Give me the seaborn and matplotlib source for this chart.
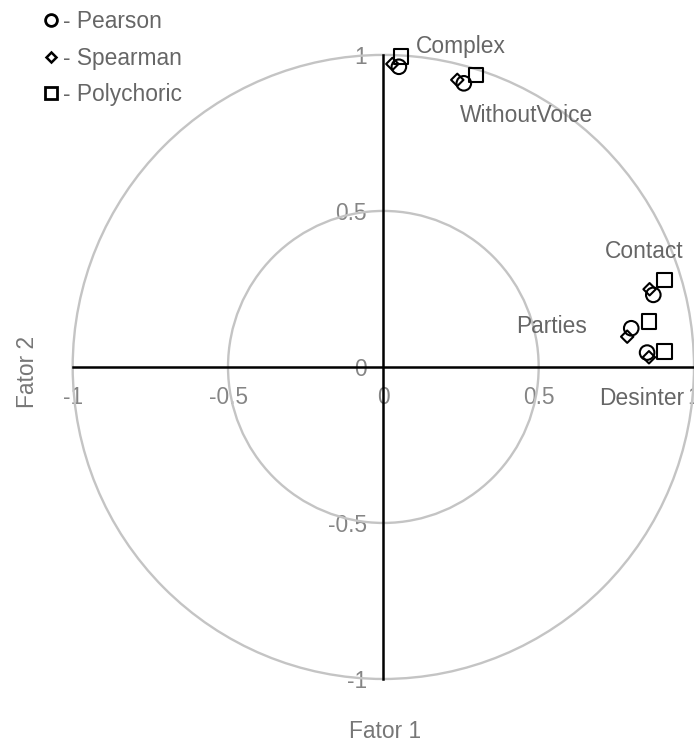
import matplotlib
matplotlib.use("Agg")
import matplotlib.pyplot as plt
from matplotlib.patches import Circle
from matplotlib.lines import Line2D
import seaborn as sns
import pandas as pd

# Factor loadings (Fator 1, Fator 2) for each variable and correlation type
variables = ["Complex", "WithoutVoice", "Contact", "Parties", "Desinter"]
pearson_f1 = [0.050, 0.259, 0.869, 0.798, 0.849]
pearson_f2 = [0.962, 0.909, 0.231, 0.124, 0.046]
spearman_f1 = [0.029, 0.238, 0.857, 0.785, 0.855]
spearman_f2 = [0.971, 0.920, 0.249, 0.097, 0.031]
polychoric_f1 = [0.057, 0.299, 0.905, 0.855, 0.905]
polychoric_f2 = [0.995, 0.936, 0.279, 0.145, 0.049]

methods = ["Pearson", "Spearman", "Polychoric"]
tick_values = [-1, -0.5, 0, 0.5, 1]
tick_labels = ["-1", "-0.5", "0", "0.5", "1"]

# label anchor points (left/baseline) for the variable names
label_pos = {
    "Complex": (0.106, 1.006),
    "WithoutVoice": (0.247, 0.785),
    "Contact": (0.712, 0.349),
    "Parties": (0.426, 0.109),
    "Desinter": (0.696, -0.122),
}

df = pd.concat([
    pd.DataFrame({"variable": variables, "f1": pearson_f1, "f2": pearson_f2, "method": "Pearson"}),
    pd.DataFrame({"variable": variables, "f1": spearman_f1, "f2": spearman_f2, "method": "Spearman"}),
    pd.DataFrame({"variable": variables, "f1": polychoric_f1, "f2": polychoric_f2, "method": "Polychoric"}),
], ignore_index=True)

sns.set_theme(style="white")
plt.rcParams["font.family"] = ["Liberation Sans", "DejaVu Sans"]

FS = 16.4
TXT = "#666666"

fig = plt.figure(figsize=(6.94, 7.42), dpi=100)
ax = fig.add_axes([0, 0, 1, 1])
ax.set_xlim(-1.234, 0.990)
ax.set_ylim(-1.202, 1.176)

# unit and half-unit reference circles
for r in (1.0, 0.5):
    ax.add_patch(Circle((0, 0), r, fill=False, edgecolor="#c4c4c4", linewidth=1.7, zorder=1))

# axes crossing at the origin
for side in ("top", "right"):
    ax.spines[side].set_visible(False)
for side in ("left", "bottom"):
    ax.spines[side].set_position(("data", 0))
    ax.spines[side].set_bounds(-1, 1)
    ax.spines[side].set_color("black")
    ax.spines[side].set_linewidth(1.8)
    ax.spines[side].set_zorder(2)

ax.set_xticks(tick_values)
ax.set_xticklabels(tick_labels)
ax.set_yticks(tick_values)
ax.set_yticklabels(tick_labels)
ax.tick_params(axis="both", direction="inout", length=10, width=1.8, color="black",
               labelsize=FS, labelcolor="#858585", pad=7)
ax.tick_params(axis="x", pad=9)

marker_style = {
    "Pearson": dict(marker="o", s=110),
    "Spearman": dict(marker="D", s=40),
    "Polychoric": dict(marker="s", s=108),
}
for m in methods:
    sub = df[df["method"] == m]
    sns.scatterplot(data=sub, x="f1", y="f2", ax=ax, color="black",
                    facecolors="none", edgecolor="black", linewidth=1.5,
                    legend=False, zorder=3, **marker_style[m])
ax.set_xlabel("")
ax.set_ylabel("")

for v in variables:
    x, y = label_pos[v]
    ax.text(x, y, v, fontsize=FS, color=TXT, ha="left", va="baseline", zorder=4)

fig.text(27 / 694, 1 - 372 / 742, "Fator 2", rotation=90, ha="center", va="center",
         fontsize=FS, color="#777777")
fig.text(385 / 694, 1 - 731 / 742, "Fator 1", ha="center", va="center",
         fontsize=FS, color="#777777")

handles = [
    Line2D([], [], linestyle="none", marker="o", markersize=8.5, markerfacecolor="none",
           markeredgecolor="black", markeredgewidth=2.0),
    Line2D([], [], linestyle="none", marker="D", markersize=5.5, markerfacecolor="none",
           markeredgecolor="black", markeredgewidth=1.8),
    Line2D([], [], linestyle="none", marker="s", markersize=8.5, markerfacecolor="none",
           markeredgecolor="black", markeredgewidth=2.0),
]
leg = ax.legend(handles, ["- " + m for m in methods], loc="upper left",
                bbox_to_anchor=(41 / 694, 1 - 10 / 742), bbox_transform=fig.transFigure,
                frameon=False, fontsize=FS, handlelength=0.9, handletextpad=0.05,
                labelspacing=0.6, borderpad=0, borderaxespad=0)
for t in leg.get_texts():
    t.set_color(TXT)

fig.savefig("out.png", dpi=100)
